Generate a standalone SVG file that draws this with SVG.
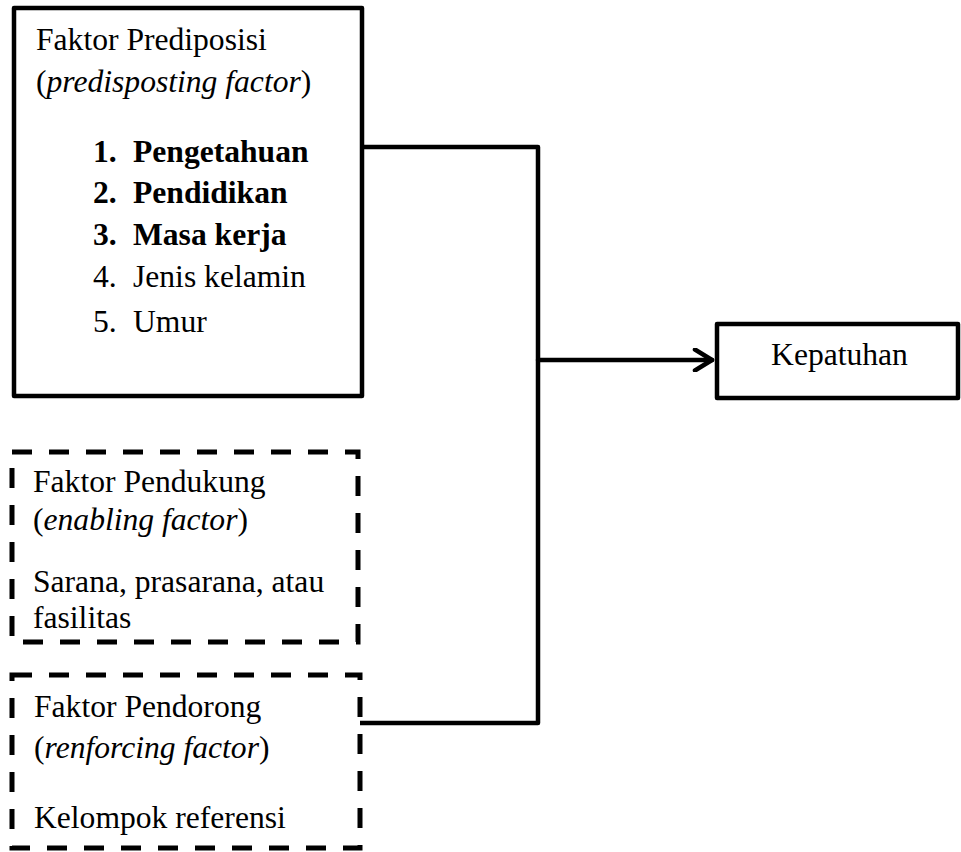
<svg xmlns="http://www.w3.org/2000/svg" width="961" height="852" viewBox="0 0 961 852">
<defs>
<style>
text{font-family:"Liberation Serif","Times New Roman",serif;font-size:31.6px;fill:#000}
.b{font-weight:bold}
.i{font-style:italic}
.solid{fill:#fff;stroke:#000;stroke-width:4.5;stroke-linejoin:round}
.dash{fill:#fff;stroke:#000;stroke-width:5;stroke-dasharray:20 17}
.conn{fill:none;stroke:#000;stroke-width:4.5;stroke-linejoin:round;stroke-linecap:round}
</style>
<marker id="arr" markerUnits="userSpaceOnUse" viewBox="0 0 24 24" refX="20" refY="12" markerWidth="24" markerHeight="24" orient="auto">
<path d="M3 1.5 L20 12 L3 22.5" fill="none" stroke="#000" stroke-width="4.5" stroke-linecap="round" stroke-linejoin="round"/>
</marker>
</defs>
<rect width="961" height="852" fill="#fff"/>
<g id="connectors">
<path class="conn" d="M362 147 H538 V723 H360"/>
<path class="conn" d="M538 360 H712" marker-end="url(#arr)"/>
</g>
<g id="predisposing">
<rect class="solid" x="14" y="8" width="348" height="388"/>
<text x="36" y="50">Faktor Prediposisi</text>
<text x="36" y="92">(<tspan class="i">predisposting factor</tspan>)</text>
<text class="b" x="93" y="162">1.</text><text class="b" x="133" y="162">Pengetahuan</text>
<text class="b" x="93" y="203">2.</text><text class="b" x="133" y="203">Pendidikan</text>
<text class="b" x="93" y="245">3.</text><text class="b" x="133" y="245">Masa kerja</text>
<text x="93" y="287">4.</text><text x="133" y="287">Jenis kelamin</text>
<text x="93" y="332">5.</text><text x="133" y="332">Umur</text>
</g>
<g id="enabling">
<rect class="dash" x="12" y="452" width="346" height="190"/>
<text x="33" y="492">Faktor Pendukung</text>
<text x="33" y="530">(<tspan class="i">enabling factor</tspan>)</text>
<text x="33" y="592">Sarana, prasarana, atau</text>
<text x="33" y="628">fasilitas</text>
</g>
<g id="reinforcing">
<rect class="dash" x="12" y="675" width="348" height="173"/>
<text x="34" y="717">Faktor Pendorong</text>
<text x="34" y="758">(<tspan class="i">renforcing factor</tspan>)</text>
<text x="34" y="828">Kelompok referensi</text>
</g>
<g id="kepatuhan">
<rect class="solid" x="717" y="324" width="241" height="74"/>
<text x="839.5" y="365" text-anchor="middle">Kepatuhan</text>
</g>
</svg>
